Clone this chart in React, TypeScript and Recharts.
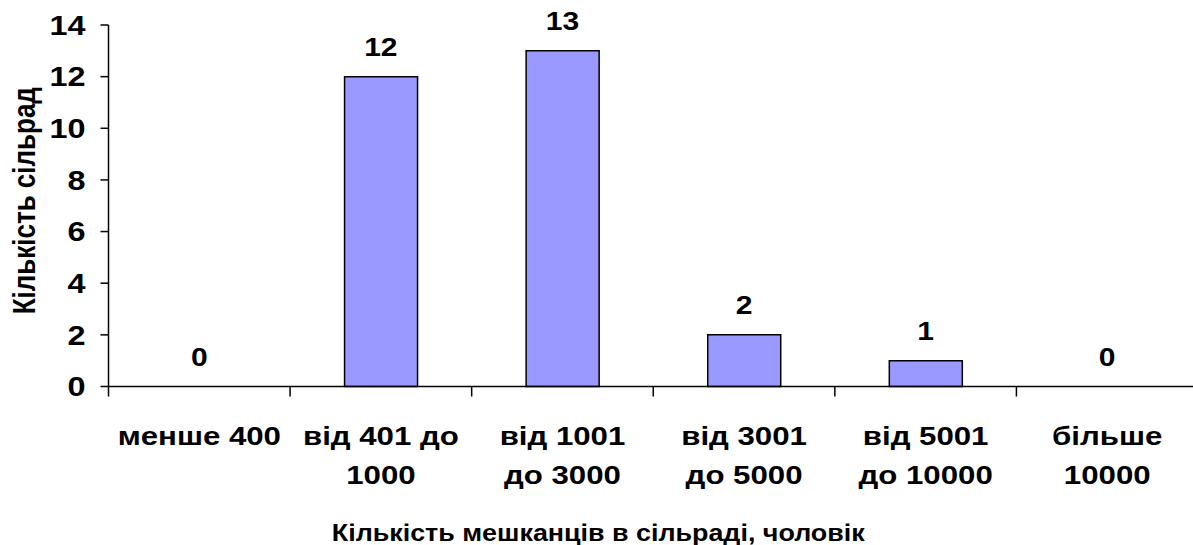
import React from "react";
import { ComposedChart, Bar, Line, XAxis, YAxis, LabelList } from "recharts";

const categories = [
  "менше 400",
  "від 401 до\n1000",
  "від 1001\nдо 3000",
  "від 3001\nдо 5000",
  "від 5001\nдо 10000",
  "більше\n10000",
];
const counts = [0, 12, 13, 2, 1, 0];
const yTicks = [0, 2, 4, 6, 8, 10, 12, 14];
const xTitle = "Кількість мешканців в сільраді, чоловік";
const yTitle = "Кількість сільрад";

const data = categories.map((c, i) => ({ category: c, count: counts[i] }));

const FONT = "'Liberation Sans', Arial, sans-serif";
const SX = 1.2;

const XTick = (props: any) => {
  const { x, y, payload, index, visibleTicksCount } = props;
  const lines = String(payload.value).split("\n");
  const half = payload.offset ?? 0;
  return (
    <g>
      <line x1={x - half} x2={x - half} y1={y} y2={y + 10} stroke="#000" strokeWidth={1.5} />
      {index === visibleTicksCount - 1 && (
        <line x1={x + half} x2={x + half} y1={y} y2={y + 10} stroke="#000" strokeWidth={1.5} />
      )}
      {lines.map((l, i) => (
        <text
          key={i}
          transform={`translate(${x},${y + 58.5 + i * 39}) scale(${SX},1)`}
          textAnchor="middle"
          fontSize={26}
          fontWeight="bold"
          fontFamily={FONT}
          fill="#000"
        >
          {l}
        </text>
      ))}
    </g>
  );
};

const YTick = (props: any) => {
  const { x, y, payload } = props;
  return (
    <text
      transform={`translate(${x},${y}) scale(${SX},1)`}
      textAnchor="end"
      dy="0.36em"
      fontSize={27}
      fontWeight="bold"
      fontFamily={FONT}
      fill="#000"
    >
      {payload.value}
    </text>
  );
};

const ValueLabel = (props: any) => {
  const { x, y, value } = props;
  return (
    <text
      transform={`translate(${x},${y - 21}) scale(${SX},1)`}
      textAnchor="middle"
      fontSize={25}
      fontWeight="bold"
      fontFamily={FONT}
      fill="#000"
    >
      {value}
    </text>
  );
};

const YTitle = (props: any) => {
  const vb = props.viewBox;
  const cx = vb.x + 15.5;
  const cy = vb.y + vb.height / 2 - 5;
  return (
    <text
      transform={`translate(${cx},${cy}) rotate(-90) scale(1,${SX})`}
      textAnchor="middle"
      dy="0.36em"
      fontSize={26}
      fontWeight="bold"
      fontFamily={FONT}
      fill="#000"
    >
      {yTitle}
    </text>
  );
};

const XTitle = (props: any) => {
  const vb = props.viewBox;
  const cx = vb.x + vb.width / 2 - 55;
  const cy = vb.y + 154;
  return (
    <text
      transform={`translate(${cx},${cy}) scale(1.12,1)`}
      textAnchor="middle"
      fontSize={24}
      fontWeight="bold"
      fontFamily={FONT}
      fill="#000"
    >
      {xTitle}
    </text>
  );
};

export default function App() {
  return (
    <div
      style={{
        position: "absolute",
        left: 0,
        top: 0,
        width: 1193,
        height: 545,
        overflow: "hidden",
        background: "#fff",
      }}
    >
      <ComposedChart
        width={1200}
        height={545}
        data={data}
        margin={{ top: 25, right: 2, bottom: 58.5, left: 8.5 }}
        barCategoryGap="30%"
      >
        <XAxis
          dataKey="category"
          height={100}
          interval={0}
          axisLine={{ stroke: "#000", strokeWidth: 1.5 }}
          tickLine={false}
          tickSize={0}
          tickMargin={0}
          tick={<XTick />}
          label={{ content: XTitle } as any}
        />
        <YAxis
          domain={[0, 14]}
          ticks={yTicks}
          interval={0}
          width={100}
          tickSize={8}
          tickMargin={15}
          axisLine={{ stroke: "#000", strokeWidth: 1.5 }}
          tickLine={{ stroke: "#000", strokeWidth: 1.5 }}
          tick={<YTick />}
          label={{ content: YTitle } as any}
        />
        <Bar
          dataKey="count"
          fill="#9999FF"
          stroke="#000"
          strokeWidth={1.5}
          isAnimationActive={false}
        />
        <Line
          dataKey="count"
          stroke="none"
          dot={false}
          activeDot={false}
          legendType="none"
          isAnimationActive={false}
        >
          <LabelList dataKey="count" content={ValueLabel} />
        </Line>
      </ComposedChart>
    </div>
  );
}
